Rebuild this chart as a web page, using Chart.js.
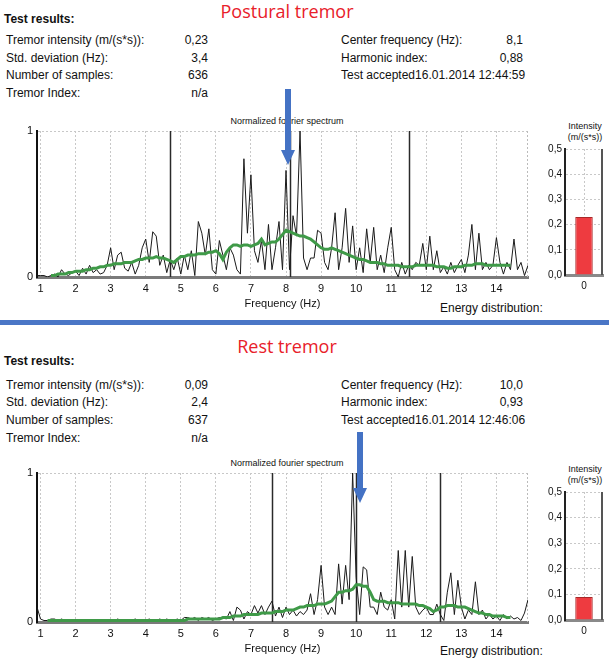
<!DOCTYPE html>
<html>
<head>
<meta charset="utf-8">
<script src="https://cdn.jsdelivr.net/npm/chart.js@4"></script>
<style>
  body { margin: 0; background: #fff; font-family: "Liberation Sans", Arial, sans-serif; color: #111; }
  #page { position: relative; width: 609px; height: 660px; overflow: hidden; }
  .t { position: absolute; white-space: nowrap; font-size: 12px; line-height: 14px; }
  .r { text-align: right; }
  .b { font-weight: bold; }
  .head { position: absolute; left: 0; width: 574px; text-align: center; color: #e8202a;
          font-family: "Open Sans", sans-serif; font-size: 18px; line-height: 22px; }
  .small { position: absolute; font-size: 9px; line-height: 10px; white-space: nowrap; }
  canvas { position: absolute; }
  .sep { position: absolute; left: 0; width: 609px; top: 320px; height: 5px; background: #4a76c6; }
</style>
</head>
<body>
<div id="page">
  <!-- postural -->
  <div class="head" style="top:0px">Postural tremor</div>
  <div class="t b" style="left:4px;top:12px">Test results:</div>
  <div class="t" style="left:6px;top:33px">Tremor intensity (m/(s*s)):</div>
  <div class="t" style="left:6px;top:51px">Std. deviation (Hz):</div>
  <div class="t" style="left:6px;top:68px">Number of samples:</div>
  <div class="t" style="left:6px;top:86px">Tremor Index:</div>
  <div class="t r" style="right:401px;top:33px">0,23</div>
  <div class="t r" style="right:401px;top:51px">3,4</div>
  <div class="t r" style="right:401px;top:68px">636</div>
  <div class="t r" style="right:401px;top:86px">n/a</div>
  <div class="t" style="left:341px;top:33px">Center frequency (Hz):</div>
  <div class="t" style="left:341px;top:51px">Harmonic index:</div>
  <div class="t" style="left:341px;top:68px">Test accepted16.01.2014 12:44:59</div>
  <div class="t r" style="right:86px;top:33px">8,1</div>
  <div class="t r" style="right:86px;top:51px">0,88</div>
  <div class="small" style="left:0;width:574px;text-align:center;top:116px">Normalized fourier spectrum</div>
  <div class="small" style="left:555px;width:60px;text-align:center;top:121px">Intensity</div>
  <div class="small" style="left:555px;width:60px;text-align:center;top:132px">(m/(s*s))</div>
  <div class="t" style="left:440px;top:301px">Energy distribution:</div>
  <canvas id="specTop" width="540" height="195" style="left:0;top:120px"></canvas>
  <canvas id="barTop" width="69" height="155" style="left:540px;top:140px"></canvas>

  <div class="sep"></div>

  <!-- rest -->
  <div class="head" style="top:335px">Rest tremor</div>
  <div class="t b" style="left:4px;top:354px">Test results:</div>
  <div class="t" style="left:6px;top:378px">Tremor intensity (m/(s*s)):</div>
  <div class="t" style="left:6px;top:395px">Std. deviation (Hz):</div>
  <div class="t" style="left:6px;top:413px">Number of samples:</div>
  <div class="t" style="left:6px;top:431px">Tremor Index:</div>
  <div class="t r" style="right:401px;top:378px">0,09</div>
  <div class="t r" style="right:401px;top:395px">2,4</div>
  <div class="t r" style="right:401px;top:413px">637</div>
  <div class="t r" style="right:401px;top:431px">n/a</div>
  <div class="t" style="left:341px;top:378px">Center frequency (Hz):</div>
  <div class="t" style="left:341px;top:395px">Harmonic index:</div>
  <div class="t" style="left:341px;top:413px">Test accepted16.01.2014 12:46:06</div>
  <div class="t r" style="right:86px;top:378px">10,0</div>
  <div class="t r" style="right:86px;top:395px">0,93</div>
  <div class="small" style="left:0;width:574px;text-align:center;top:458px">Normalized fourier spectrum</div>
  <div class="small" style="left:555px;width:60px;text-align:center;top:464px">Intensity</div>
  <div class="small" style="left:555px;width:60px;text-align:center;top:475px">(m/(s*s))</div>
  <div class="t" style="left:440px;top:644px">Energy distribution:</div>
  <canvas id="specBottom" width="540" height="198" style="left:0;top:462px"></canvas>
  <canvas id="barBottom" width="69" height="160" style="left:540px;top:482px"></canvas>

  <!-- arrows -->
  <svg width="609" height="660" style="position:absolute;left:0;top:0;pointer-events:none">
    <polygon points="285,89 291,89 291,150 295,150 288,165 281,150 285,150" fill="#4472c4"/>
    <polygon points="357,432 363,432 363,488 367,488 360,503 353,488 357,488" fill="#4472c4"/>
  </svg>
</div>

<script>
// frequency axis of the spectra (Hz)
const freqStart = 0.9;
const freqStep = 0.1;
const freqTicks = [1, 2, 3, 4, 5, 6, 7, 8, 9, 10, 11, 12, 13, 14];

// postural tremor, normalized spectrum, 0.9 .. 14.9 Hz
const posturalSpectrum = [
  0.01,
  0.01, 0.01, 0.00, 0.01, 0.02, 0.00, 0.05, 0.02, 0.01, 0.03,
  0.04, 0.01, 0.06, 0.02, 0.08, 0.03, 0.05, 0.02, 0.03, 0.08,
  0.20, 0.05, 0.15, 0.17, 0.06, 0.04, 0.10, 0.02, 0.08, 0.20,
  0.26, 0.10, 0.31, 0.28, 0.08, 0.15, 0.03, 0.12, 0.05, 0.13,
  0.02, 0.15, 0.05, 0.18, 0.01, 0.38, 0.30, 0.15, 0.33, 0.05,
  0.02, 0.25, 0.15, 0.05, 0.20, 0.15, 0.05, 0.02, 0.81, 0.30,
  0.70, 0.18, 0.10, 0.25, 0.05, 0.36, 0.05, 0.20, 0.38, 0.05,
  0.73, 0.05, 0.42, 0.28, 1.00, 0.13, 0.05, 0.13, 0.13, 0.32,
  0.30, 0.10, 0.05, 0.20, 0.44, 0.05, 0.20, 0.47, 0.10, 0.35,
  0.05, 0.20, 0.03, 0.33, 0.10, 0.34, 0.05, 0.15, 0.03, 0.20,
  0.34, 0.05, 0.00, 0.10, 0.02, 0.08, 0.05, 0.10, 0.08, 0.23,
  0.05, 0.28, 0.05, 0.18, 0.03, 0.07, 0.02, 0.10, 0.03, 0.08,
  0.12, 0.03, 0.15, 0.36, 0.05, 0.30, 0.05, 0.10, 0.05, 0.08,
  0.27, 0.10, 0.02, 0.10, 0.05, 0.26, 0.05, 0.10, 0.01, 0.08
];
const posturalSmooth = [
  null,
  null, null, null, 0.01, 0.01, 0.02, 0.02, 0.02, 0.03, 0.03,
  0.04, 0.04, 0.04, 0.05, 0.05, 0.06, 0.06, 0.07, 0.07, 0.08,
  0.08, 0.09, 0.09, 0.09, 0.10, 0.10, 0.10, 0.11, 0.12, 0.12,
  0.13, 0.13, 0.13, 0.14, 0.13, 0.13, 0.12, 0.11, 0.10, 0.12,
  0.14, 0.14, 0.15, 0.15, 0.15, 0.16, 0.16, 0.16, 0.17, 0.17,
  0.18, 0.16, 0.12, 0.17, 0.20, 0.22, 0.22, 0.21, 0.22, 0.22,
  0.21, 0.22, 0.23, 0.26, 0.22, 0.23, 0.24, 0.24, 0.26, 0.29,
  0.32, 0.31, 0.30, 0.29, 0.28, 0.28, 0.27, 0.26, 0.24, 0.22,
  0.20, 0.19, 0.19, 0.20, 0.19, 0.18, 0.17, 0.16, 0.15, 0.14,
  0.13, 0.12, 0.12, 0.11, 0.10, 0.10, 0.10, 0.09, 0.09, 0.08,
  0.08, 0.08, 0.08, 0.07, 0.07, 0.07, 0.07, 0.08, 0.08, 0.08,
  0.08, 0.08, 0.08, 0.07, 0.07, 0.07, 0.06, 0.06, 0.07, 0.07,
  0.07, 0.08, 0.08, 0.08, 0.09, 0.09, 0.09, 0.08, 0.08, 0.08,
  0.08, 0.08, 0.08, 0.08, 0.08, null, null, null, null, null
];
// center frequency and center +/- std. deviation
const posturalMarkers = [4.7, 8.1, 11.5];

// rest tremor
const restSpectrum = [
  0.10,
  0.02, 0.01, 0.01, 0.02, 0.02, 0.01, 0.02, 0.01, 0.01, 0.01,
  0.01, 0.01, 0.01, 0.01, 0.00, 0.01, 0.01, 0.00, 0.01, 0.01,
  0.01, 0.01, 0.02, 0.01, 0.01, 0.01, 0.01, 0.02, 0.01, 0.01,
  0.01, 0.02, 0.01, 0.01, 0.02, 0.01, 0.02, 0.01, 0.01, 0.02,
  0.01, 0.03, 0.03, 0.02, 0.03, 0.01, 0.03, 0.02, 0.03, 0.01,
  0.02, 0.03, 0.03, 0.02, 0.07, 0.01, 0.10, 0.08, 0.02, 0.07,
  0.05, 0.11, 0.06, 0.11, 0.05, 0.10, 0.14, 0.04, 0.10, 0.03,
  0.10, 0.05, 0.08, 0.04, 0.07, 0.05, 0.08, 0.19, 0.05, 0.15,
  0.38, 0.10, 0.05, 0.10, 0.05, 0.39, 0.12, 0.38, 0.15, 1.00,
  0.30, 0.05, 0.37, 0.35, 0.10, 0.10, 0.05, 0.20, 0.10, 0.08,
  0.15, 0.02, 0.48, 0.10, 0.48, 0.10, 0.44, 0.10, 0.05, 0.08,
  0.10, 0.05, 0.05, 0.12, 0.05, 0.01, 0.20, 0.33, 0.05, 0.28,
  0.10, 0.02, 0.08, 0.05, 0.27, 0.05, 0.08, 0.02, 0.05, 0.02,
  0.04, 0.01, 0.05, 0.02, 0.04, 0.02, 0.03, 0.01, 0.06, 0.15
];
const restSmooth = [
  null,
  null, null, 0.01, 0.01, 0.01, 0.01, 0.01, 0.01, 0.01, 0.01,
  0.01, 0.01, 0.01, 0.01, 0.01, 0.01, 0.01, 0.01, 0.01, 0.01,
  0.01, 0.01, 0.01, 0.01, 0.01, 0.01, 0.01, 0.01, 0.01, 0.01,
  0.01, 0.01, 0.01, 0.01, 0.01, 0.01, 0.01, 0.01, 0.01, 0.01,
  0.01, 0.01, 0.02, 0.02, 0.02, 0.02, 0.02, 0.02, 0.02, 0.02,
  0.02, 0.02, 0.03, 0.03, 0.03, 0.04, 0.04, 0.04, 0.05, 0.05,
  0.05, 0.05, 0.05, 0.06, 0.06, 0.06, 0.06, 0.07, 0.07, 0.07,
  0.08, 0.08, 0.08, 0.09, 0.10, 0.10, 0.11, 0.11, 0.11, 0.12,
  0.12, 0.12, 0.13, 0.14, 0.17, 0.20, 0.20, 0.21, 0.21, 0.22,
  0.25, 0.25, 0.24, 0.24, 0.20, 0.15, 0.14, 0.14, 0.14, 0.13,
  0.13, 0.13, 0.13, 0.12, 0.12, 0.12, 0.12, 0.12, 0.11, 0.11,
  0.10, 0.09, 0.07, 0.08, 0.10, 0.10, 0.11, 0.11, 0.11, 0.10,
  0.10, 0.10, 0.09, 0.08, 0.07, 0.06, 0.06, 0.05, 0.05, 0.04,
  0.04, 0.04, 0.04, 0.03, 0.03, null, null, null, null, null
];
const restMarkers = [7.6, 10.0, 12.4];

// energy distribution bars
const intensityLabels = ['0'];
const posturalIntensity = [0.23];
const restIntensity = [0.09];
const intensityTicks = ['0,0', '0,1', '0,2', '0,3', '0,4', '0,5'];

const font = { family: '"Liberation Sans", Arial, sans-serif' };

function toPoints(values) {
  return values.map((v, i) => ({ x: +(freqStart + i * freqStep).toFixed(1), y: v }));
}

// dark vertical cursor lines + dotted right edge of the frame
const markerLines = {
  id: 'markerLines',
  beforeDatasetsDraw(chart, args, opts) {
    const { ctx, chartArea: a, scales: { x } } = chart;
    ctx.save();
    ctx.strokeStyle = '#bbb';
    ctx.setLineDash([2, 2]);
    ctx.lineWidth = 1;
    ctx.beginPath();
    ctx.moveTo(a.right - 0.5, a.top);
    ctx.lineTo(a.right - 0.5, a.bottom);
    ctx.stroke();
    ctx.setLineDash([]);
    ctx.strokeStyle = opts.color || '#333';
    ctx.lineWidth = opts.width || 1.5;
    (opts.values || []).forEach(v => {
      const px = Math.round(x.getPixelForValue(v)) + 0.5;
      ctx.beginPath();
      ctx.moveTo(px, a.top);
      ctx.lineTo(px, a.bottom);
      ctx.stroke();
    });
    ctx.restore();
  }
};

function makeSpectrum(id, black, green, markers, xAxisHeight) {
  new Chart(document.getElementById(id), {
    type: 'line',
    data: {
      datasets: [
        { data: toPoints(black), borderColor: '#1a1a1a', borderWidth: 1, pointRadius: 0, tension: 0, order: 2 },
        { data: toPoints(green), borderColor: '#3f9a48', borderWidth: 3, pointRadius: 0, tension: 0, order: 1, spanGaps: false }
      ]
    },
    options: {
      responsive: false,
      animation: false,
      events: [],
      layout: { padding: { left: 0, right: 12, top: 11, bottom: 0 } },
      plugins: {
        legend: { display: false },
        tooltip: { enabled: false },
        markerLines: { values: markers, color: '#2a2a2a', width: 1.5 }
      },
      scales: {
        x: {
          type: 'linear', min: 0.9, max: 14.9,
          afterBuildTicks: s => { s.ticks = freqTicks.map(v => ({ value: v })); },
          afterFit: s => { s.height = xAxisHeight; },
          grid: { color: '#c8c8c8', lineWidth: 1, drawTicks: false },
          border: { color: '#7a7a7a', width: 3, dash: [2, 2] },
          ticks: { color: '#111', font: { ...font, size: 11 }, padding: 5, maxRotation: 0 },
          title: { display: true, text: 'Frequency (Hz)', color: '#111', font: { ...font, size: 11 }, padding: { top: 2, bottom: 4 } }
        },
        y: {
          min: 0, max: 1,
          afterBuildTicks: s => { s.ticks = [{ value: 0 }, { value: 1 }]; },
          afterFit: s => { s.width = 37; },
          grid: { color: c => c.tick && c.tick.value === 1 ? '#c8c8c8' : 'rgba(0,0,0,0)', drawTicks: false },
          border: { color: '#111', width: 2, dash: [2, 2] },
          ticks: { color: '#111', font: { ...font, size: 11 }, padding: 4 }
        }
      }
    },
    plugins: [markerLines]
  });
}

const rightEdge = {
  id: 'rightEdge',
  afterDraw(chart) {
    const { ctx, chartArea: a } = chart;
    ctx.save();
    ctx.strokeStyle = '#555';
    ctx.lineWidth = 2;
    ctx.beginPath();
    ctx.moveTo(a.right - 1, a.top);
    ctx.lineTo(a.right - 1, a.bottom);
    ctx.stroke();
    ctx.restore();
  }
};

function makeIntensity(id, values, padTop, xAxisHeight) {
  new Chart(document.getElementById(id), {
    type: 'bar',
    data: {
      labels: intensityLabels,
      datasets: [{
        data: values, backgroundColor: '#ee3b40', borderColor: '#a82828', borderWidth: 1,
        barPercentage: 0.46, categoryPercentage: 1
      }]
    },
    options: {
      responsive: false,
      animation: false,
      events: [],
      layout: { padding: { left: 0, right: 6, top: padTop, bottom: 0 } },
      plugins: { legend: { display: false }, tooltip: { enabled: false } },
      scales: {
        x: {
          afterFit: s => { s.height = xAxisHeight; },
          grid: { offset: false, color: '#c8c8c8', drawTicks: false },
          border: { color: '#8a8a8a', width: 3, dash: [2, 2] },
          ticks: { color: '#111', font: { ...font, size: 10 }, padding: 5 }
        },
        y: {
          min: 0, max: 0.5,
          afterFit: s => { s.width = 25; },
          grid: { color: '#c8c8c8', drawTicks: false },
          border: { color: '#222', width: 2, dash: [2, 2] },
          ticks: { stepSize: 0.1, color: '#111', font: { ...font, size: 10 }, padding: 3,
                   callback: (v, i) => intensityTicks[i] }
        }
      }
    },
    plugins: [rightEdge]
  });
}

makeSpectrum('specTop', posturalSpectrum, posturalSmooth, posturalMarkers, 38);
makeSpectrum('specBottom', restSpectrum, restSmooth, restMarkers, 38);
makeIntensity('barTop', posturalIntensity, 9, 20);
makeIntensity('barBottom', restIntensity, 10, 22);
</script>
</body>
</html>
